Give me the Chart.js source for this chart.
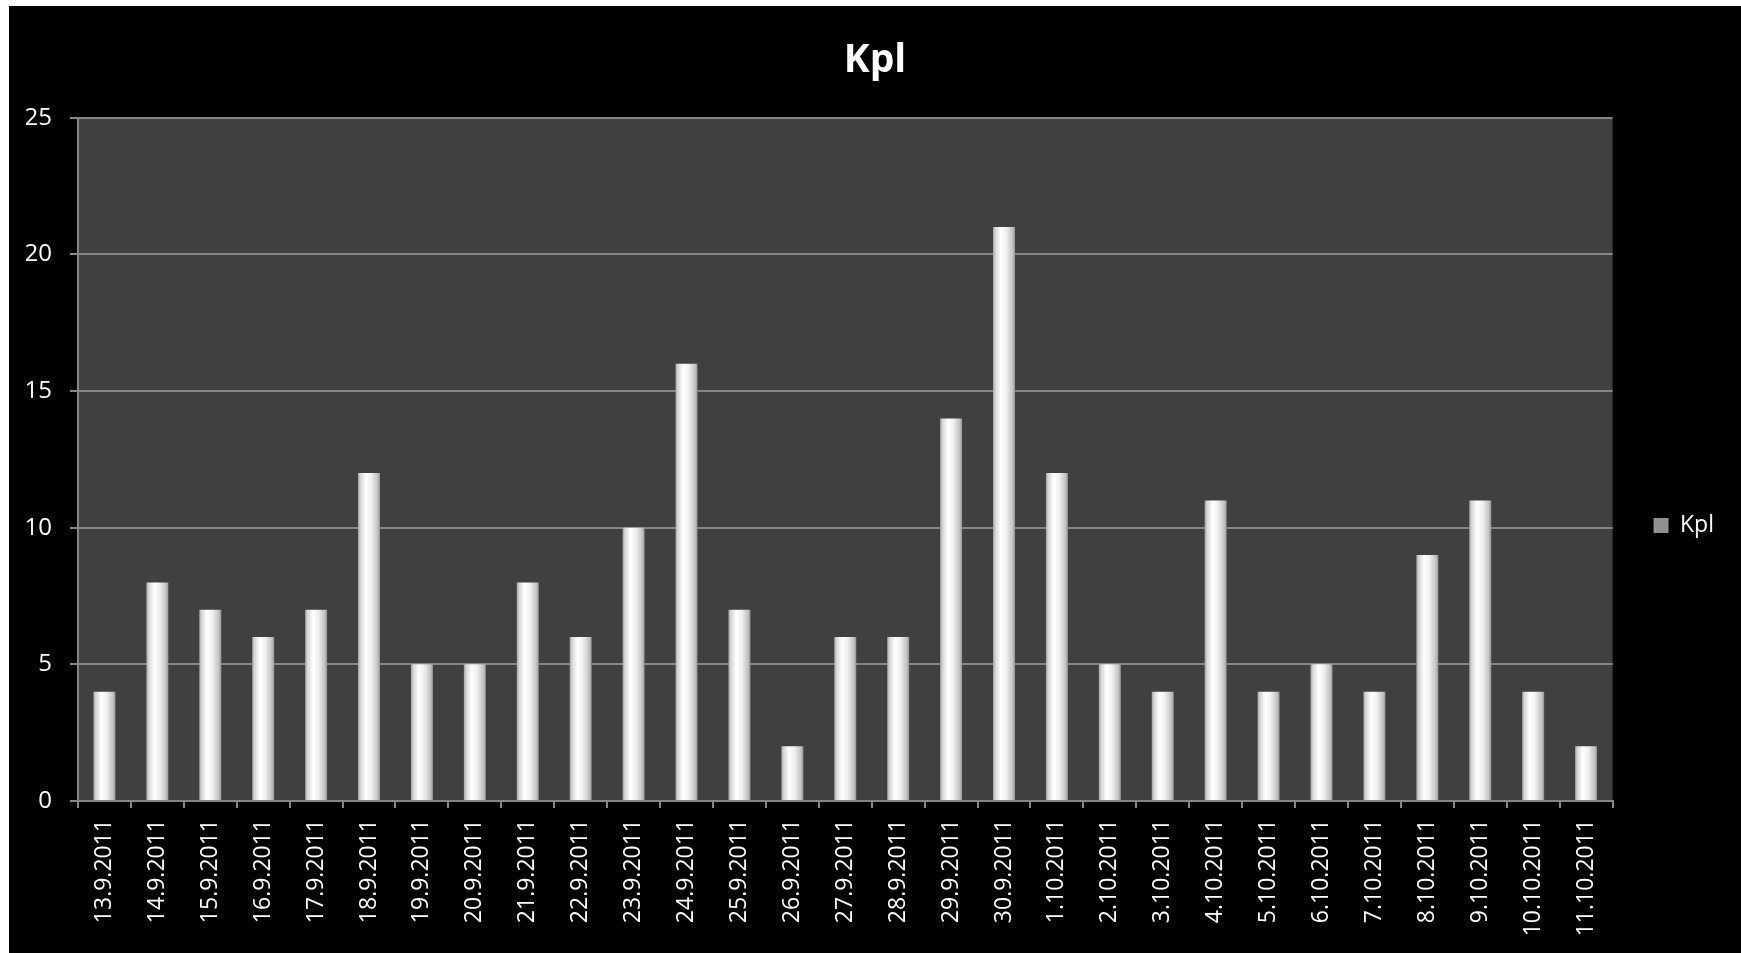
<!DOCTYPE html>
<html>
<head>
<meta charset="utf-8">
<script src="https://cdn.jsdelivr.net/npm/chart.js@4/dist/chart.umd.min.js"></script>
<style>
  html, body { margin: 0; padding: 0; background: #ffffff; }
  #wrap { position: absolute; left: 9px; top: 6px; width: 1732px; height: 947px; background: #000000; }
</style>
</head>
<body>
<div id="wrap"><canvas id="kplChart"></canvas></div>
<script>
// Päivämäärät ja arvot
const dates = [
  '13.9.2011', '14.9.2011', '15.9.2011', '16.9.2011', '17.9.2011', '18.9.2011',
  '19.9.2011', '20.9.2011', '21.9.2011', '22.9.2011', '23.9.2011', '24.9.2011',
  '25.9.2011', '26.9.2011', '27.9.2011', '28.9.2011', '29.9.2011', '30.9.2011',
  '1.10.2011', '2.10.2011', '3.10.2011', '4.10.2011', '5.10.2011', '6.10.2011',
  '7.10.2011', '8.10.2011', '9.10.2011', '10.10.2011', '11.10.2011'
];
const kpl = [4, 8, 7, 6, 7, 12, 5, 5, 8, 6, 10, 16, 7, 2, 6, 6, 14, 21, 12, 5, 4, 11, 4, 5, 4, 9, 11, 4, 2];
const yTicks = [0, 5, 10, 15, 20, 25];

const BAR_PCT = 0.416;
const FONT = '"Open Sans", "DejaVu Sans", sans-serif';

// Tumma tausta piirtoalueelle
const plotBackground = {
  id: 'plotBackground',
  beforeDraw(chart) {
    const { ctx, chartArea } = chart;
    ctx.save();
    ctx.fillStyle = '#404040';
    ctx.fillRect(chartArea.left, chartArea.top, chartArea.right - chartArea.left, chartArea.bottom - chartArea.top);
    ctx.restore();
  }
};

// Pylväiden vaakasuuntainen liukuväri
function barFill(context) {
  const chart = context.chart;
  if (context.dataIndex === undefined || !chart.chartArea) return '#d4d4d4';
  const xScale = chart.scales.x;
  const cx = xScale.getPixelForValue(context.dataIndex);
  const w = (chart.chartArea.right - chart.chartArea.left) / dates.length * BAR_PCT;
  const g = chart.ctx.createLinearGradient(cx - w / 2, 0, cx + w / 2, 0);
  g.addColorStop(0, '#a0a0a0');
  g.addColorStop(0.1, '#d4d4d4');
  g.addColorStop(0.35, '#ffffff');
  g.addColorStop(0.6, '#f0f0f0');
  g.addColorStop(0.9, '#c0c0c0');
  g.addColorStop(1, '#909090');
  return g;
}

new Chart(document.getElementById('kplChart'), {
  type: 'bar',
  data: {
    labels: dates,
    datasets: [{
      label: 'Kpl',
      data: kpl,
      backgroundColor: barFill,
      borderWidth: 0,
      barPercentage: BAR_PCT,
      categoryPercentage: 1
    }]
  },
  options: {
    responsive: true,
    maintainAspectRatio: false,
    animation: false,
    layout: { padding: { left: 17, right: 17 } },
    plugins: {
      title: {
        display: true,
        text: 'Kpl',
        color: '#ffffff',
        font: { family: FONT, size: 39, weight: 'bold', lineHeight: 1.2 },
        padding: { top: 31, bottom: 34 }
      },
      legend: {
        display: true,
        position: 'right',
        title: {
          display: true,
          text: ' ',
          font: { size: 10, lineHeight: 1 },
          padding: { top: 82, bottom: 0 }
        },
        labels: {
          color: '#ffffff',
          font: { family: FONT, size: 23 },
          boxWidth: 15,
          boxHeight: 15,
          padding: 41
        }
      },
      tooltip: { enabled: false }
    },
    scales: {
      y: {
        min: 0,
        max: 25,
        afterBuildTicks(scale) {
          scale.ticks = yTicks.map(v => ({ value: v }));
        },
        afterFit(scale) { scale.width = 52; },
        ticks: {
          color: '#ffffff',
          font: { family: FONT, size: 24 },
          padding: 18
        },
        grid: { color: '#868686', lineWidth: 2, tickLength: 8 },
        border: { color: '#868686', width: 2 }
      },
      x: {
        afterFit(scale) { scale.height = 152; },
        ticks: {
          color: '#ffffff',
          font: { family: FONT, size: 23 },
          minRotation: 90,
          maxRotation: 90,
          autoSkip: false,
          padding: 11
        },
        grid: { drawOnChartArea: false, color: '#868686', lineWidth: 2, tickLength: 7, offset: true },
        border: { color: '#868686', width: 2 }
      }
    }
  },
  plugins: [plotBackground]
});
</script>
</body>
</html>
